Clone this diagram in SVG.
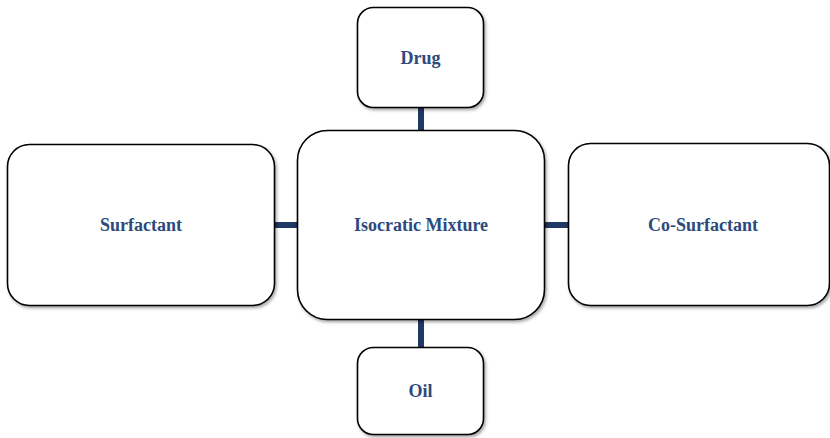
<svg xmlns="http://www.w3.org/2000/svg" width="830" height="438" viewBox="0 0 830 438">
<defs>
<filter id="sh" x="-10%" y="-10%" width="125%" height="130%">
<feDropShadow dx="1.5" dy="2" stdDeviation="1.5" flood-color="#000" flood-opacity="0.35"/>
</filter>
</defs>
<style>
.box{fill:#fff;stroke:#000;stroke-width:1.6;filter:url(#sh)}
.lbl{font-family:"Liberation Serif","Times New Roman",serif;font-weight:bold;font-size:18px;fill:#2C4A7E;text-anchor:middle}
.con{stroke:#1F3864;stroke-width:6;fill:none}
</style>
<rect width="830" height="438" fill="#fff"/>
<g id="connectors">
<line class="con" x1="421" y1="108" x2="421" y2="131"/>
<line class="con" x1="421" y1="319" x2="421" y2="347"/>
<line class="con" x1="275" y1="225" x2="298" y2="225"/>
<line class="con" x1="544" y1="225" x2="569" y2="225"/>
</g>
<g id="drug">
<rect class="box" x="357.5" y="7.5" width="126" height="100" rx="16"/>
<text class="lbl" x="420.5" y="64">Drug</text>
</g>
<g id="isocratic">
<rect class="box" x="297.5" y="130.5" width="247" height="189" rx="30"/>
<text class="lbl" x="421" y="231">Isocratic Mixture</text>
</g>
<g id="surfactant">
<rect class="box" x="7.5" y="144.5" width="267" height="161" rx="22"/>
<text class="lbl" x="141" y="231">Surfactant</text>
</g>
<g id="cosurfactant">
<rect class="box" x="568.5" y="143.5" width="261" height="162" rx="22"/>
<text class="lbl" x="703" y="231">Co-Surfactant</text>
</g>
<g id="oil">
<rect class="box" x="357.5" y="347.5" width="126" height="87" rx="16"/>
<text class="lbl" x="420.5" y="397">Oil</text>
</g>
</svg>
